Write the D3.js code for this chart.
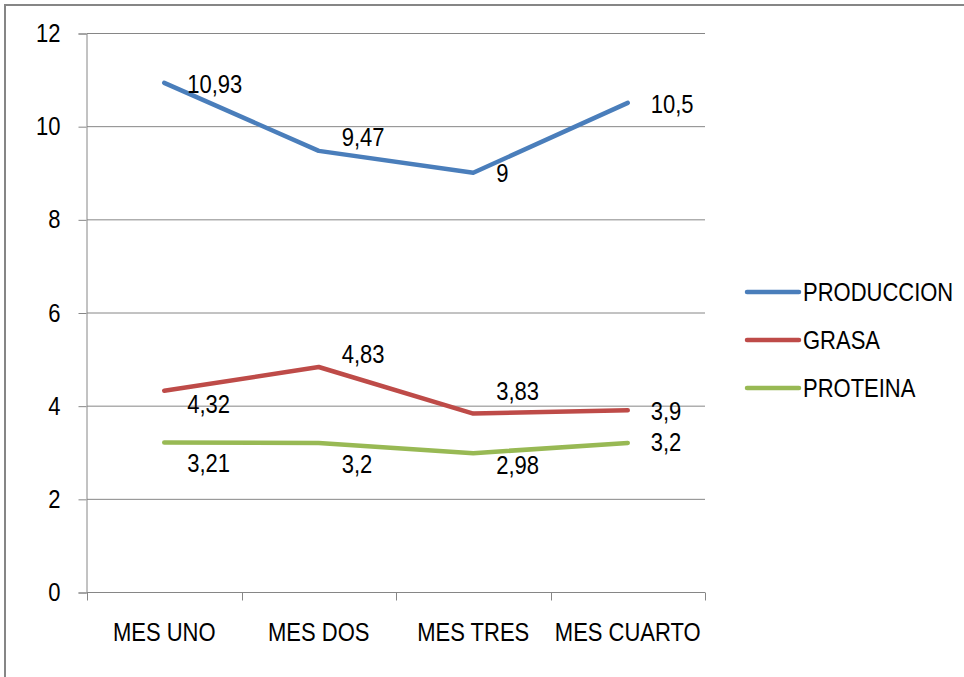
<!DOCTYPE html>
<html>
<head>
<meta charset="utf-8">
<script src="https://cdn.jsdelivr.net/npm/d3@7"></script>
<style>
body { margin: 0; background: #fff; }
svg text { font-family: "Liberation Sans", Arial, sans-serif; fill: #000; }
</style>
</head>
<body>
<svg id="graphique" width="964" height="677"></svg>
<script>
var categorias = ["MES UNO", "MES DOS", "MES TRES", "MES CUARTO"];
var series = ["PRODUCCION", "GRASA", "PROTEINA"];
var produccion = [10.93, 9.47, 9, 10.5];
var grasa = [4.32, 4.83, 3.83, 3.9];
var proteina = [3.21, 3.2, 2.98, 3.2];
var yTicks = [0, 2, 4, 6, 8, 10, 12];

var valores = [produccion, grasa, proteina];
var colores = ["#4a7ebb", "#be4b48", "#98b954"];
// decalage vertical des etiquettes (px) par serie / point
var decalY = [
	[1, -14, 1, 1],
	[13, -13, -22, 1],
	[21, 21, 12, -1]
];

var WIDTH = 964, HEIGHT = 677;
var MARGINS = { top: 33, bottom: 85, left: 87, right: 259 };
var TAILLE = 25;
var ETROIT = 0.88;

var graphique = d3.select("#graphique");

// cadre
graphique.append("rect")
	.attr("x", 5).attr("y", 5)
	.attr("width", 1000).attr("height", 800)
	.attr("fill", "none")
	.attr("stroke", "#868686")
	.attr("stroke-width", 2);

var xScale = d3.scaleBand().domain(categorias).range([MARGINS.left, WIDTH - MARGINS.right]);
var yScale = d3.scaleLinear().domain([0, 12]).range([HEIGHT - MARGINS.bottom, MARGINS.top]);

// grille
graphique.append("g")
	.selectAll("line")
	.data(yTicks.filter(function(d){ return d > 0; }))
	.enter().append("line")
	.attr("x1", MARGINS.left).attr("x2", WIDTH - MARGINS.right)
	.attr("y1", function(d){ return yScale(d) + 0.5; })
	.attr("y2", function(d){ return yScale(d) + 0.5; })
	.attr("stroke", "#868686").attr("stroke-width", 1);

// axe y
var yAxis = d3.axisLeft(yScale).tickValues(yTicks).tickSize(8).tickPadding(18)
	.tickFormat(function(d){ return d; });
var gy = graphique.append("g")
	.attr("transform", "translate(" + (MARGINS.left - 0.5) + ",0.5)")
	.call(yAxis);
gy.selectAll("text").attr("font-size", TAILLE).style("font-family", null);

// axe x
var xAxis = d3.axisBottom(xScale).tickSize(0).tickPadding(31);
var gx = graphique.append("g")
	.attr("transform", "translate(0," + (yScale(0) + 0.5) + ")")
	.call(xAxis);
gx.selectAll("text").attr("font-size", TAILLE).style("font-family", null);
var bords = categorias.map(function(c){ return xScale(c); }).concat([WIDTH - MARGINS.right]);
gx.selectAll(".sep").data(bords).enter().append("line")
	.attr("x1", function(d){ return Math.round(d) + 0.5; })
	.attr("x2", function(d){ return Math.round(d) + 0.5; })
	.attr("y1", 0).attr("y2", 8)
	.attr("stroke", "#868686");

graphique.selectAll(".domain, .tick line").attr("stroke", "#868686");
gx.select(".domain").attr("d", "M" + MARGINS.left + ",0H" + (WIDTH - MARGINS.right));

// courbes
var ligne = d3.line()
	.x(function(d, i){ return xScale(categorias[i]) + xScale.bandwidth() / 2; })
	.y(function(d){ return yScale(d); });

valores.forEach(function(serie, s){
	graphique.append("path")
		.attr("d", ligne(serie))
		.attr("fill", "none")
		.attr("stroke", colores[s])
		.attr("stroke-width", 4.5)
		.attr("stroke-linecap", "round")
		.attr("stroke-linejoin", "round");

	serie.forEach(function(v, i){
		graphique.append("text")
			.attr("x", xScale(categorias[i]) + xScale.bandwidth() / 2 + 23)
			.attr("y", yScale(v) + decalY[s][i])
			.attr("dy", "0.35em")
			.attr("font-size", TAILLE)
			.text(String(v).replace(".", ","));
	});
});

// legende
var legende = graphique.append("g");
series.forEach(function(nom, s){
	var y = 292 + s * 48;
	legende.append("line")
		.attr("x1", 747).attr("x2", 799)
		.attr("y1", y).attr("y2", y)
		.attr("stroke", colores[s])
		.attr("stroke-width", 4.5)
		.attr("stroke-linecap", "round");
	legende.append("text")
		.attr("x", 803).attr("y", y)
		.attr("dy", "0.35em")
		.attr("font-size", TAILLE)
		.text(nom);
});

// police etroite facon Calibri : on comprime chaque texte autour de son point d'ancrage
graphique.selectAll("text").each(function(){
	var t = d3.select(this);
	var x = +t.attr("x") || 0;
	var y = +t.attr("y") || 0;
	t.attr("transform", "translate(" + x + "," + y + ") scale(" + ETROIT + ",1) translate(" + (-x) + "," + (-y) + ")");
});
</script>
</body>
</html>
